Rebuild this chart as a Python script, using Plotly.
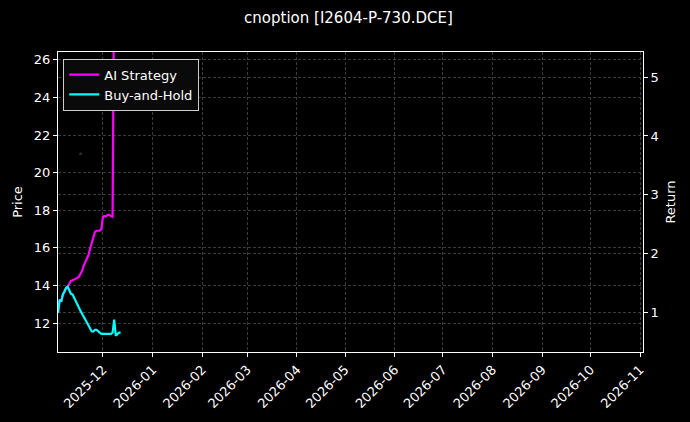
import plotly.graph_objects as go

# daily points, 2025-11-03 .. 2025-12-12
dates = [
    "2025-11-03", "2025-11-04", "2025-11-05", "2025-11-06", "2025-11-07",
    "2025-11-08", "2025-11-09", "2025-11-10", "2025-11-11", "2025-11-12",
    "2025-11-13", "2025-11-14", "2025-11-15", "2025-11-16", "2025-11-17",
    "2025-11-18", "2025-11-19", "2025-11-20", "2025-11-21", "2025-11-22",
    "2025-11-23", "2025-11-24", "2025-11-25", "2025-11-26", "2025-11-27",
    "2025-11-28", "2025-11-29", "2025-11-30", "2025-12-01", "2025-12-02",
    "2025-12-03", "2025-12-04", "2025-12-05", "2025-12-06", "2025-12-07",
    "2025-12-08", "2025-12-09", "2025-12-10", "2025-12-11", "2025-12-12",
]

ai_return = [
    1.00, 1.22, 1.19, 1.31, 1.36, 1.42, 1.44, 1.49, 1.54, 1.55,
    1.56, 1.58, 1.59, 1.61, 1.66, 1.71, 1.80, 1.86, 1.92, 1.98,
    2.09, 2.19, 2.29, 2.37, 2.39, 2.39, 2.39, 2.42, 2.63, 2.64,
    2.64, 2.66, 2.66, 2.64, 2.63, 6.90, 6.80, 6.90, 7.00, 7.00,
]

bh_return = [
    1.00, 1.22, 1.19, 1.31, 1.36, 1.42, 1.44, 1.37, 1.32, 1.31,
    1.25, 1.20, 1.15, 1.09, 1.03, 0.98, 0.93, 0.88, 0.83, 0.76,
    0.71, 0.68, 0.68, 0.71, 0.71, 0.68, 0.66, 0.64, 0.64, 0.64,
    0.64, 0.64, 0.64, 0.64, 0.66, 0.88, 0.61, 0.63, 0.66, 0.66,
]

price_dates = ["2025-11-17"]
price = [21.0]

fig = go.Figure()

fig.add_trace(go.Scatter(x=price_dates, y=price, mode="markers",
                         marker=dict(color="#2e2e2e", size=3),
                         showlegend=False, yaxis="y"))
fig.add_trace(go.Scatter(x=dates, y=ai_return, mode="lines", name="AI Strategy",
                         line=dict(color="#ff00ff", width=2.2), yaxis="y2"))
fig.add_trace(go.Scatter(x=dates, y=bh_return, mode="lines", name="Buy-and-Hold",
                         line=dict(color="#00ffff", width=2.2), yaxis="y2"))

grid = dict(showgrid=True, gridcolor="#3c3c3c", gridwidth=0.5, griddash="3px,2px")
fig.update_layout(
    width=690, height=422,
    paper_bgcolor="black", plot_bgcolor="black",
    font=dict(family="DejaVu Sans", color="white", size=13),
    margin=dict(l=58, r=47, t=52, b=70),
    title=dict(text="cnoption [I2604-P-730.DCE]", x=0.505, xref="container",
               y=1 - 18 / 422, yref="container", yanchor="middle",
               font=dict(size=15)),
    xaxis=dict(range=["2025-11-02 23:00", "2026-11-02 19:00"],
               tickformat="%Y-%m", dtick="M1", tick0="2025-12-01",
               tickangle=-45, ticks="outside", ticklen=4, tickcolor="white",
               showline=True, linecolor="white", linewidth=1, mirror=True,
               zeroline=False, automargin=False, **grid),
    yaxis=dict(range=[10.47, 26.41], dtick=2,
               title=dict(text="Price", standoff=8, font=dict(size=13)),
               ticks="outside", ticklen=4, tickcolor="white",
               showline=True, linecolor="white", linewidth=1, mirror=True,
               zeroline=False, automargin=False, **grid),
    yaxis2=dict(range=[0.332, 5.425], dtick=1, overlaying="y", side="right",
                title=dict(text="Return", standoff=8, font=dict(size=13)),
                ticks="outside", ticklen=4, tickcolor="white",
                zeroline=False, automargin=False, **grid),
    legend=dict(x=0.009, y=0.978, xanchor="left", yanchor="top",
                bgcolor="#0a0a0a", bordercolor="#cccccc", borderwidth=1,
                font=dict(size=13), tracegroupgap=0),
)

# drop the page's default body margin so the figure sits at 0,0
fig.write_html("out.html", config={"displayModeBar": False},
               post_script="document.body.style.margin='0px';")
